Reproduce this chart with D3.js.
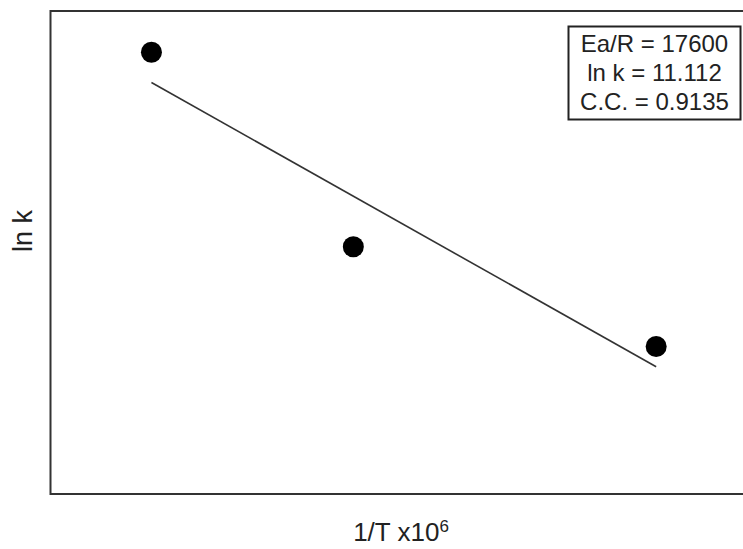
<!DOCTYPE html>
<html>
<head>
<meta charset="utf-8">
<script src="https://cdn.jsdelivr.net/npm/d3@7"></script>
<style>
  html, body { margin: 0; padding: 0; background: #fff; overflow: hidden; }
  svg { display: block; font-family: 'Liberation Sans', Arial, sans-serif; }
</style>
</head>
<body>
<svg id="chart" width="743" height="549" viewBox="0 0 743 549"></svg>
<script>
// data (x is 1/T x10^6, no ticks shown)
const invT = [3100, 3200, 3350];
const lnK = [-43.14, -46.16, -47.71];
const statLines = ['Ea/R = 17600', 'ln k = 11.112', 'C.C. = 0.9135'];

const width = 743;
const height = 549;
const margin = { top: 11, right: -2, bottom: 55, left: 50.5 };
const innerWidth = width - margin.left - margin.right;
const innerHeight = height - margin.top - margin.bottom;

const svg = d3.select('#chart');
const g = svg.append('g')
  .attr('transform', `translate(${margin.left},${margin.top})`);

const xScale = d3.scaleLinear()
  .domain([3050, 3394])
  .range([0, innerWidth]);

const yScale = d3.scaleLinear()
  .domain([-50, -42.5])
  .range([innerHeight, 0]);

// frame: the right side is off the picture in the original, so only three sides
const visRight = width - margin.left;
g.append('path')
  .attr('d', `M${visRight},0H0V${innerHeight}H${visRight}`)
  .attr('fill', 'none')
  .attr('stroke', '#333')
  .attr('stroke-width', 2);

// least squares fit
const pts = invT.map((x, i) => ({ x, y: lnK[i] }));
const mx = d3.mean(invT);
const my = d3.mean(lnK);
const sxy = d3.sum(pts, d => (d.x - mx) * (d.y - my));
const sxx = d3.sum(pts, d => (d.x - mx) * (d.x - mx));
const slope = sxy / sxx;
const icpt = my - slope * mx;
const xEnds = d3.extent(invT);

g.append('line')
  .attr('x1', xScale(xEnds[0]))
  .attr('y1', yScale(icpt + slope * xEnds[0]))
  .attr('x2', xScale(xEnds[1]))
  .attr('y2', yScale(icpt + slope * xEnds[1]))
  .attr('stroke', '#333')
  .attr('stroke-width', 1.6);

g.selectAll('circle')
  .data(pts)
  .enter()
  .append('circle')
  .attr('cx', d => xScale(d.x))
  .attr('cy', d => yScale(d.y))
  .attr('r', 10.5)
  .attr('fill', '#000');

// stats box
const box = svg.append('g');
box.append('rect')
  .attr('x', 568.5)
  .attr('y', 26.5)
  .attr('width', 172)
  .attr('height', 93)
  .attr('fill', '#fff')
  .attr('stroke', '#222')
  .attr('stroke-width', 2);

box.selectAll('text')
  .data(statLines)
  .enter()
  .append('text')
  .attr('x', 654.5)
  .attr('y', (d, i) => 52 + i * 29)
  .attr('text-anchor', 'middle')
  .attr('font-size', '24px')
  .attr('fill', '#222')
  .text(d => d);

// axis labels
const xl = svg.append('text')
  .attr('x', 401)
  .attr('y', 541)
  .attr('text-anchor', 'middle')
  .attr('font-size', '26px')
  .attr('fill', '#222');
xl.append('tspan').text('1/T x10');
xl.append('tspan')
  .attr('dy', -9)
  .attr('font-size', '17px')
  .text('6');

svg.append('text')
  .attr('transform', 'translate(32,231) rotate(-90)')
  .attr('text-anchor', 'middle')
  .attr('font-size', '27px')
  .attr('fill', '#222')
  .text('ln k');
</script>
</body>
</html>
